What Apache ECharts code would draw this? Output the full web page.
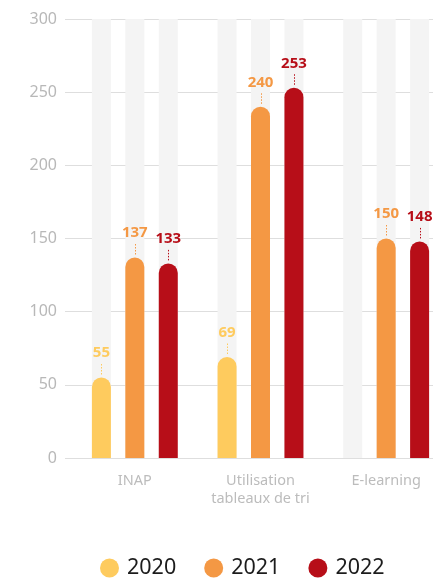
<!DOCTYPE html>
<html>
<head>
<meta charset="utf-8">
<script src="https://cdn.jsdelivr.net/npm/echarts@6/dist/echarts.min.js"></script>
<style>
  html, body { margin: 0; padding: 0; background: #fff; }
  #chart { width: 433px; height: 579px; }
</style>
</head>
<body>
<div id="chart"></div>
<script>
// Categories and yearly values
const categories = ['INAP', 'Utilisation\ntableaux de tri', 'E-learning'];
const years = ['2020', '2021', '2022'];
const values2020 = [55, 69, null];
const values2021 = [137, 240, 150];
const values2022 = [133, 253, 148];
const yTicks = [0, 50, 100, 150, 200, 250, 300];

const barColors = ['#fecb5e', '#f49844', '#b70e18'];
const allValues = [values2020, values2021, values2022];

const FONT = '"Noto Sans", sans-serif';
const BAR_WIDTH = 19;
const BAR_GAP = 0.76; // gap between bars in a group, as a share of bar width

const chart = echarts.init(document.getElementById('chart'), null, { renderer: 'canvas' });

function barSeries(i) {
  return {
    name: years[i],
    type: 'bar',
    xAxisIndex: 1,
    yAxisIndex: 1,
    data: allValues[i],
    barWidth: BAR_WIDTH,
    barGap: (BAR_GAP * 100) + '%',
    itemStyle: { color: barColors[i], borderRadius: [BAR_WIDTH / 2, BAR_WIDTH / 2, 0, 0] },
    showBackground: true,
    backgroundStyle: { color: '#f4f4f4' },
    label: {
      show: true,
      position: 'top',
      distance: 17,
      color: barColors[i],
      fontFamily: FONT,
      fontWeight: 'bold',
      fontSize: 15
    },
    emphasis: { disabled: true }
  };
}

// Dotted leader lines between each value label and its bar top
const leaderData = [];
allValues.forEach((vals, s) => {
  vals.forEach((v, c) => {
    if (v != null) leaderData.push([c, v, s]);
  });
});

const leaderSeries = {
  type: 'custom',
  xAxisIndex: 1,
  yAxisIndex: 1,
  silent: true,
  z: 5,
  data: leaderData,
  renderItem: function (params, api) {
    const s = api.value(2);
    const pt = api.coord([api.value(0), api.value(1)]);
    const step = BAR_WIDTH * (1 + BAR_GAP);
    const x = Math.round(pt[0] + (s - 1) * step) + 0.5;
    return {
      type: 'line',
      shape: { x1: x, y1: pt[1] - 3, x2: x, y2: pt[1] - 15 },
      style: { stroke: barColors[s], lineWidth: 1, lineDash: [1.5, 1.5] }
    };
  }
};

chart.setOption({
  animation: false,
  textStyle: { fontFamily: FONT },
  grid: [
    { left: 65, right: 0, top: 19, bottom: 121, outerBoundsMode: 'none' },
    { left: 72, right: -16, top: 19, bottom: 121, outerBoundsMode: 'none' }
  ],
  xAxis: [
    { gridIndex: 0, type: 'category', data: [], show: false },
    {
      gridIndex: 1,
      type: 'category',
      data: categories,
      axisLine: { show: false },
      axisTick: { show: false },
      axisLabel: {
        interval: 0,
        hideOverlap: false,
        color: '#bcbcbc',
        fontFamily: FONT,
        fontSize: 14.5,
        lineHeight: 18,
        margin: 14
      }
    }
  ],
  yAxis: [
    {
      gridIndex: 0,
      type: 'value',
      min: yTicks[0],
      max: yTicks[yTicks.length - 1],
      interval: yTicks[1] - yTicks[0],
      axisLine: { show: false },
      axisTick: { show: false },
      axisLabel: { color: '#b8b8b8', fontFamily: FONT, fontSize: 16, margin: 8 },
      splitLine: { lineStyle: { color: '#dedede', width: 1 } }
    },
    {
      gridIndex: 1,
      type: 'value',
      min: yTicks[0],
      max: yTicks[yTicks.length - 1],
      show: false,
      splitLine: { show: false }
    }
  ],
  legend: {
    left: 100,
    top: 557,
    padding: 0,
    icon: 'circle',
    itemWidth: 19,
    itemHeight: 19,
    itemGap: 28,
    data: years,
    textStyle: { color: '#1c1c1c', fontFamily: FONT, fontSize: 21.5, padding: [0, 0, 0, 3] }
  },
  series: [barSeries(0), barSeries(1), barSeries(2), leaderSeries]
});
</script>
</body>
</html>
